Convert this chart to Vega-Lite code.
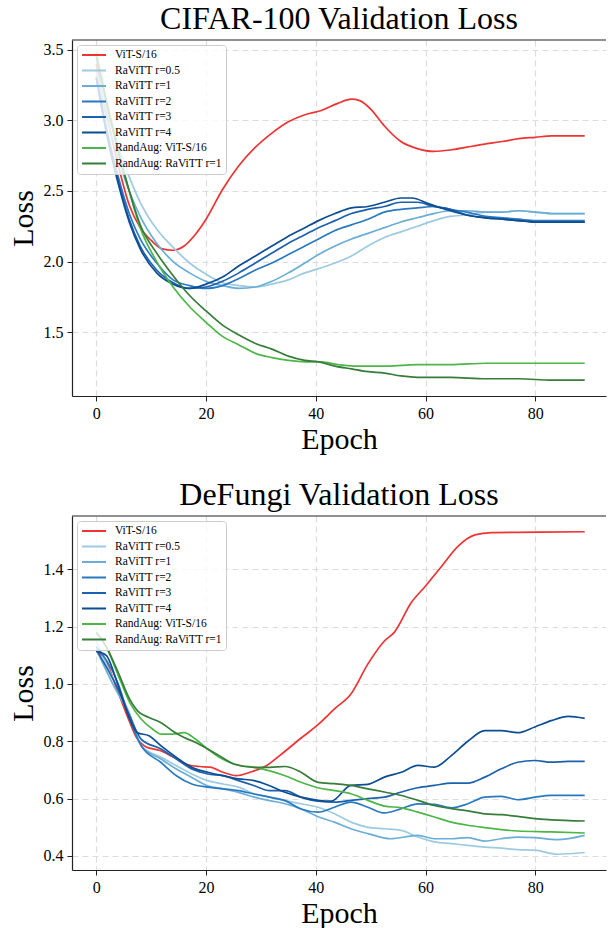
{
  "$schema": "https://vega.github.io/schema/vega-lite/v6.json",
  "padding": {"left": 8, "top": 3, "right": 0, "bottom": 0},
  "background": "white",
  "datasets": {
    "cifar": [
      {"s":"ViT-S/16","e":0,"v":3.40},{"s":"ViT-S/16","e":2,"v":3.02},{"s":"ViT-S/16","e":4,"v":2.68},{"s":"ViT-S/16","e":6,"v":2.40},{"s":"ViT-S/16","e":8,"v":2.24},{"s":"ViT-S/16","e":10,"v":2.15},{"s":"ViT-S/16","e":12,"v":2.09},{"s":"ViT-S/16","e":14,"v":2.08},{"s":"ViT-S/16","e":16,"v":2.11},{"s":"ViT-S/16","e":18,"v":2.19},{"s":"ViT-S/16","e":20,"v":2.30},{"s":"ViT-S/16","e":23,"v":2.51},{"s":"ViT-S/16","e":26,"v":2.68},{"s":"ViT-S/16","e":29,"v":2.81},{"s":"ViT-S/16","e":32,"v":2.91},{"s":"ViT-S/16","e":35,"v":2.99},{"s":"ViT-S/16","e":38,"v":3.04},{"s":"ViT-S/16","e":41,"v":3.07},{"s":"ViT-S/16","e":44,"v":3.12},{"s":"ViT-S/16","e":46.5,"v":3.15},{"s":"ViT-S/16","e":48,"v":3.14},{"s":"ViT-S/16","e":50,"v":3.08},{"s":"ViT-S/16","e":52.5,"v":2.96},{"s":"ViT-S/16","e":55.5,"v":2.85},{"s":"ViT-S/16","e":58.5,"v":2.80},{"s":"ViT-S/16","e":61.5,"v":2.78},{"s":"ViT-S/16","e":64.5,"v":2.79},{"s":"ViT-S/16","e":67.5,"v":2.81},{"s":"ViT-S/16","e":70.5,"v":2.83},{"s":"ViT-S/16","e":74,"v":2.85},{"s":"ViT-S/16","e":77,"v":2.87},{"s":"ViT-S/16","e":80,"v":2.88},{"s":"ViT-S/16","e":83,"v":2.89},{"s":"ViT-S/16","e":89,"v":2.89},
      {"s":"RaViTT r=0.5","e":0,"v":3.35},{"s":"RaViTT r=0.5","e":2,"v":3.06},{"s":"RaViTT r=0.5","e":4,"v":2.82},{"s":"RaViTT r=0.5","e":6,"v":2.60},{"s":"RaViTT r=0.5","e":8,"v":2.42},{"s":"RaViTT r=0.5","e":11,"v":2.23},{"s":"RaViTT r=0.5","e":14,"v":2.10},{"s":"RaViTT r=0.5","e":17,"v":1.99},{"s":"RaViTT r=0.5","e":20,"v":1.91},{"s":"RaViTT r=0.5","e":23,"v":1.85},{"s":"RaViTT r=0.5","e":26,"v":1.83},{"s":"RaViTT r=0.5","e":29,"v":1.82},{"s":"RaViTT r=0.5","e":32,"v":1.84},{"s":"RaViTT r=0.5","e":35,"v":1.87},{"s":"RaViTT r=0.5","e":38,"v":1.92},{"s":"RaViTT r=0.5","e":40.5,"v":1.95},{"s":"RaViTT r=0.5","e":43.5,"v":1.99},{"s":"RaViTT r=0.5","e":46.5,"v":2.04},{"s":"RaViTT r=0.5","e":49.5,"v":2.11},{"s":"RaViTT r=0.5","e":52.5,"v":2.17},{"s":"RaViTT r=0.5","e":55.5,"v":2.21},{"s":"RaViTT r=0.5","e":58.5,"v":2.25},{"s":"RaViTT r=0.5","e":61.5,"v":2.29},{"s":"RaViTT r=0.5","e":64.5,"v":2.32},{"s":"RaViTT r=0.5","e":67.5,"v":2.33},{"s":"RaViTT r=0.5","e":71,"v":2.35},{"s":"RaViTT r=0.5","e":74,"v":2.35},{"s":"RaViTT r=0.5","e":77,"v":2.36},{"s":"RaViTT r=0.5","e":80,"v":2.35},{"s":"RaViTT r=0.5","e":83,"v":2.34},{"s":"RaViTT r=0.5","e":89,"v":2.34},
      {"s":"RaViTT r=1","e":0,"v":3.32},{"s":"RaViTT r=1","e":2,"v":3.00},{"s":"RaViTT r=1","e":4,"v":2.73},{"s":"RaViTT r=1","e":6,"v":2.50},{"s":"RaViTT r=1","e":8,"v":2.32},{"s":"RaViTT r=1","e":11,"v":2.13},{"s":"RaViTT r=1","e":14,"v":2.00},{"s":"RaViTT r=1","e":17,"v":1.92},{"s":"RaViTT r=1","e":20,"v":1.86},{"s":"RaViTT r=1","e":23,"v":1.83},{"s":"RaViTT r=1","e":26,"v":1.81},{"s":"RaViTT r=1","e":29,"v":1.82},{"s":"RaViTT r=1","e":32,"v":1.86},{"s":"RaViTT r=1","e":35,"v":1.92},{"s":"RaViTT r=1","e":38,"v":1.99},{"s":"RaViTT r=1","e":40.5,"v":2.05},{"s":"RaViTT r=1","e":43.5,"v":2.11},{"s":"RaViTT r=1","e":46.5,"v":2.16},{"s":"RaViTT r=1","e":49.5,"v":2.20},{"s":"RaViTT r=1","e":52.5,"v":2.24},{"s":"RaViTT r=1","e":55.5,"v":2.28},{"s":"RaViTT r=1","e":58.5,"v":2.31},{"s":"RaViTT r=1","e":61.5,"v":2.34},{"s":"RaViTT r=1","e":64.5,"v":2.36},{"s":"RaViTT r=1","e":67.5,"v":2.36},{"s":"RaViTT r=1","e":71,"v":2.35},{"s":"RaViTT r=1","e":74,"v":2.35},{"s":"RaViTT r=1","e":77,"v":2.36},{"s":"RaViTT r=1","e":80,"v":2.35},{"s":"RaViTT r=1","e":83,"v":2.34},{"s":"RaViTT r=1","e":89,"v":2.34},
      {"s":"RaViTT r=2","e":0,"v":3.30},{"s":"RaViTT r=2","e":2,"v":2.92},{"s":"RaViTT r=2","e":4,"v":2.60},{"s":"RaViTT r=2","e":6,"v":2.34},{"s":"RaViTT r=2","e":8,"v":2.16},{"s":"RaViTT r=2","e":11,"v":1.99},{"s":"RaViTT r=2","e":14,"v":1.87},{"s":"RaViTT r=2","e":17,"v":1.83},{"s":"RaViTT r=2","e":20,"v":1.81},{"s":"RaViTT r=2","e":23,"v":1.83},{"s":"RaViTT r=2","e":26,"v":1.88},{"s":"RaViTT r=2","e":29,"v":1.94},{"s":"RaViTT r=2","e":32,"v":1.99},{"s":"RaViTT r=2","e":35,"v":2.05},{"s":"RaViTT r=2","e":38,"v":2.11},{"s":"RaViTT r=2","e":40.5,"v":2.16},{"s":"RaViTT r=2","e":43.5,"v":2.22},{"s":"RaViTT r=2","e":46.5,"v":2.26},{"s":"RaViTT r=2","e":49.5,"v":2.30},{"s":"RaViTT r=2","e":52.5,"v":2.35},{"s":"RaViTT r=2","e":55.5,"v":2.37},{"s":"RaViTT r=2","e":58.5,"v":2.38},{"s":"RaViTT r=2","e":61.5,"v":2.39},{"s":"RaViTT r=2","e":64.5,"v":2.37},{"s":"RaViTT r=2","e":67.5,"v":2.35},{"s":"RaViTT r=2","e":71,"v":2.32},{"s":"RaViTT r=2","e":74,"v":2.31},{"s":"RaViTT r=2","e":77,"v":2.30},{"s":"RaViTT r=2","e":80,"v":2.29},{"s":"RaViTT r=2","e":83,"v":2.29},{"s":"RaViTT r=2","e":89,"v":2.29},
      {"s":"RaViTT r=3","e":0,"v":3.30},{"s":"RaViTT r=3","e":2,"v":2.90},{"s":"RaViTT r=3","e":4,"v":2.57},{"s":"RaViTT r=3","e":6,"v":2.30},{"s":"RaViTT r=3","e":8,"v":2.11},{"s":"RaViTT r=3","e":11,"v":1.94},{"s":"RaViTT r=3","e":14,"v":1.85},{"s":"RaViTT r=3","e":17,"v":1.81},{"s":"RaViTT r=3","e":20,"v":1.82},{"s":"RaViTT r=3","e":23,"v":1.86},{"s":"RaViTT r=3","e":26,"v":1.92},{"s":"RaViTT r=3","e":29,"v":1.99},{"s":"RaViTT r=3","e":32,"v":2.06},{"s":"RaViTT r=3","e":35,"v":2.13},{"s":"RaViTT r=3","e":38,"v":2.19},{"s":"RaViTT r=3","e":40.5,"v":2.24},{"s":"RaViTT r=3","e":43.5,"v":2.29},{"s":"RaViTT r=3","e":46.5,"v":2.34},{"s":"RaViTT r=3","e":49.5,"v":2.37},{"s":"RaViTT r=3","e":52.5,"v":2.39},{"s":"RaViTT r=3","e":55.5,"v":2.42},{"s":"RaViTT r=3","e":58.5,"v":2.42},{"s":"RaViTT r=3","e":61.5,"v":2.39},{"s":"RaViTT r=3","e":64.5,"v":2.37},{"s":"RaViTT r=3","e":67.5,"v":2.33},{"s":"RaViTT r=3","e":71,"v":2.31},{"s":"RaViTT r=3","e":74,"v":2.30},{"s":"RaViTT r=3","e":77,"v":2.29},{"s":"RaViTT r=3","e":80,"v":2.28},{"s":"RaViTT r=3","e":83,"v":2.28},{"s":"RaViTT r=3","e":89,"v":2.28},
      {"s":"RaViTT r=4","e":0,"v":3.30},{"s":"RaViTT r=4","e":2,"v":2.88},{"s":"RaViTT r=4","e":4,"v":2.55},{"s":"RaViTT r=4","e":6,"v":2.28},{"s":"RaViTT r=4","e":8,"v":2.09},{"s":"RaViTT r=4","e":11,"v":1.92},{"s":"RaViTT r=4","e":14,"v":1.84},{"s":"RaViTT r=4","e":17,"v":1.81},{"s":"RaViTT r=4","e":20,"v":1.84},{"s":"RaViTT r=4","e":23,"v":1.89},{"s":"RaViTT r=4","e":26,"v":1.97},{"s":"RaViTT r=4","e":29,"v":2.04},{"s":"RaViTT r=4","e":32,"v":2.11},{"s":"RaViTT r=4","e":35,"v":2.18},{"s":"RaViTT r=4","e":38,"v":2.24},{"s":"RaViTT r=4","e":40.5,"v":2.29},{"s":"RaViTT r=4","e":43.5,"v":2.34},{"s":"RaViTT r=4","e":46.5,"v":2.38},{"s":"RaViTT r=4","e":49.5,"v":2.39},{"s":"RaViTT r=4","e":52.5,"v":2.42},{"s":"RaViTT r=4","e":55.5,"v":2.45},{"s":"RaViTT r=4","e":57.5,"v":2.45},{"s":"RaViTT r=4","e":60.5,"v":2.41},{"s":"RaViTT r=4","e":64.5,"v":2.36},{"s":"RaViTT r=4","e":67.5,"v":2.33},{"s":"RaViTT r=4","e":71,"v":2.31},{"s":"RaViTT r=4","e":74,"v":2.30},{"s":"RaViTT r=4","e":77,"v":2.29},{"s":"RaViTT r=4","e":80,"v":2.28},{"s":"RaViTT r=4","e":83,"v":2.28},{"s":"RaViTT r=4","e":89,"v":2.28},
      {"s":"RandAug: ViT-S/16","e":0,"v":3.48},{"s":"RandAug: ViT-S/16","e":2,"v":3.12},{"s":"RandAug: ViT-S/16","e":4,"v":2.80},{"s":"RandAug: ViT-S/16","e":6,"v":2.50},{"s":"RandAug: ViT-S/16","e":8,"v":2.24},{"s":"RandAug: ViT-S/16","e":11,"v":2.00},{"s":"RandAug: ViT-S/16","e":14,"v":1.82},{"s":"RandAug: ViT-S/16","e":17,"v":1.68},{"s":"RandAug: ViT-S/16","e":20,"v":1.57},{"s":"RandAug: ViT-S/16","e":23,"v":1.47},{"s":"RandAug: ViT-S/16","e":26,"v":1.41},{"s":"RandAug: ViT-S/16","e":29,"v":1.35},{"s":"RandAug: ViT-S/16","e":32,"v":1.32},{"s":"RandAug: ViT-S/16","e":35,"v":1.30},{"s":"RandAug: ViT-S/16","e":38,"v":1.29},{"s":"RandAug: ViT-S/16","e":41,"v":1.29},{"s":"RandAug: ViT-S/16","e":44,"v":1.27},{"s":"RandAug: ViT-S/16","e":47,"v":1.26},{"s":"RandAug: ViT-S/16","e":50,"v":1.26},{"s":"RandAug: ViT-S/16","e":53,"v":1.26},{"s":"RandAug: ViT-S/16","e":58.5,"v":1.27},{"s":"RandAug: ViT-S/16","e":64.5,"v":1.27},{"s":"RandAug: ViT-S/16","e":71,"v":1.28},{"s":"RandAug: ViT-S/16","e":77,"v":1.28},{"s":"RandAug: ViT-S/16","e":83,"v":1.28},{"s":"RandAug: ViT-S/16","e":89,"v":1.28},
      {"s":"RandAug: RaViTT r=1","e":0,"v":3.45},{"s":"RandAug: RaViTT r=1","e":2,"v":3.10},{"s":"RandAug: RaViTT r=1","e":4,"v":2.78},{"s":"RandAug: RaViTT r=1","e":6,"v":2.50},{"s":"RandAug: RaViTT r=1","e":8,"v":2.26},{"s":"RandAug: RaViTT r=1","e":11,"v":2.06},{"s":"RandAug: RaViTT r=1","e":14,"v":1.90},{"s":"RandAug: RaViTT r=1","e":17,"v":1.76},{"s":"RandAug: RaViTT r=1","e":20,"v":1.65},{"s":"RandAug: RaViTT r=1","e":23,"v":1.55},{"s":"RandAug: RaViTT r=1","e":26,"v":1.48},{"s":"RandAug: RaViTT r=1","e":29,"v":1.42},{"s":"RandAug: RaViTT r=1","e":32,"v":1.38},{"s":"RandAug: RaViTT r=1","e":35,"v":1.33},{"s":"RandAug: RaViTT r=1","e":38,"v":1.30},{"s":"RandAug: RaViTT r=1","e":40.5,"v":1.29},{"s":"RandAug: RaViTT r=1","e":43.5,"v":1.26},{"s":"RandAug: RaViTT r=1","e":46.5,"v":1.24},{"s":"RandAug: RaViTT r=1","e":49.5,"v":1.22},{"s":"RandAug: RaViTT r=1","e":52.5,"v":1.21},{"s":"RandAug: RaViTT r=1","e":55.5,"v":1.19},{"s":"RandAug: RaViTT r=1","e":58.5,"v":1.18},{"s":"RandAug: RaViTT r=1","e":64.5,"v":1.18},{"s":"RandAug: RaViTT r=1","e":71,"v":1.17},{"s":"RandAug: RaViTT r=1","e":77,"v":1.17},{"s":"RandAug: RaViTT r=1","e":83,"v":1.16},{"s":"RandAug: RaViTT r=1","e":89,"v":1.16}
    ],
    "defungi": [
      {"s":"ViT-S/16","e":0,"v":1.116},{"s":"ViT-S/16","e":1.8,"v":1.08},{"s":"ViT-S/16","e":3.6,"v":0.99},{"s":"ViT-S/16","e":5.5,"v":0.895},{"s":"ViT-S/16","e":7.3,"v":0.814},{"s":"ViT-S/16","e":9.1,"v":0.78},{"s":"ViT-S/16","e":11.6,"v":0.768},{"s":"ViT-S/16","e":14,"v":0.745},{"s":"ViT-S/16","e":16.4,"v":0.72},{"s":"ViT-S/16","e":18.8,"v":0.712},{"s":"ViT-S/16","e":20.7,"v":0.71},{"s":"ViT-S/16","e":23.1,"v":0.692},{"s":"ViT-S/16","e":25.5,"v":0.68},{"s":"ViT-S/16","e":28,"v":0.692},{"s":"ViT-S/16","e":31,"v":0.715},{"s":"ViT-S/16","e":33.4,"v":0.75},{"s":"ViT-S/16","e":37.1,"v":0.808},{"s":"ViT-S/16","e":40.4,"v":0.858},{"s":"ViT-S/16","e":43.4,"v":0.913},{"s":"ViT-S/16","e":46.4,"v":0.965},{"s":"ViT-S/16","e":49.5,"v":1.07},{"s":"ViT-S/16","e":52.5,"v":1.15},{"s":"ViT-S/16","e":54.3,"v":1.18},{"s":"ViT-S/16","e":57.4,"v":1.284},{"s":"ViT-S/16","e":60,"v":1.342},{"s":"ViT-S/16","e":62.9,"v":1.41},{"s":"ViT-S/16","e":65.9,"v":1.48},{"s":"ViT-S/16","e":69,"v":1.52},{"s":"ViT-S/16","e":72,"v":1.528},{"s":"ViT-S/16","e":76.8,"v":1.529},{"s":"ViT-S/16","e":89,"v":1.531},
      {"s":"RaViTT r=0.5","e":0,"v":1.15},{"s":"RaViTT r=0.5","e":3,"v":1.02},{"s":"RaViTT r=0.5","e":6,"v":0.90},{"s":"RaViTT r=0.5","e":8.2,"v":0.784},{"s":"RaViTT r=0.5","e":11.8,"v":0.744},{"s":"RaViTT r=0.5","e":14.6,"v":0.715},{"s":"RaViTT r=0.5","e":17.4,"v":0.686},{"s":"RaViTT r=0.5","e":20.3,"v":0.663},{"s":"RaViTT r=0.5","e":23.1,"v":0.651},{"s":"RaViTT r=0.5","e":25.9,"v":0.64},{"s":"RaViTT r=0.5","e":28.8,"v":0.616},{"s":"RaViTT r=0.5","e":31.6,"v":0.605},{"s":"RaViTT r=0.5","e":34.4,"v":0.593},{"s":"RaViTT r=0.5","e":37.3,"v":0.582},{"s":"RaViTT r=0.5","e":40.4,"v":0.57},{"s":"RaViTT r=0.5","e":43.4,"v":0.547},{"s":"RaViTT r=0.5","e":46.4,"v":0.518},{"s":"RaViTT r=0.5","e":49.5,"v":0.50},{"s":"RaViTT r=0.5","e":52.5,"v":0.495},{"s":"RaViTT r=0.5","e":55.6,"v":0.489},{"s":"RaViTT r=0.5","e":58.6,"v":0.466},{"s":"RaViTT r=0.5","e":61.6,"v":0.449},{"s":"RaViTT r=0.5","e":64.7,"v":0.443},{"s":"RaViTT r=0.5","e":67.7,"v":0.437},{"s":"RaViTT r=0.5","e":70.8,"v":0.431},{"s":"RaViTT r=0.5","e":73.8,"v":0.427},{"s":"RaViTT r=0.5","e":76.8,"v":0.422},{"s":"RaViTT r=0.5","e":79.9,"v":0.42},{"s":"RaViTT r=0.5","e":84,"v":0.406},{"s":"RaViTT r=0.5","e":89,"v":0.412},
      {"s":"RaViTT r=1","e":0,"v":1.12},{"s":"RaViTT r=1","e":3,"v":1.00},{"s":"RaViTT r=1","e":6.1,"v":0.888},{"s":"RaViTT r=1","e":8.2,"v":0.784},{"s":"RaViTT r=1","e":11.8,"v":0.738},{"s":"RaViTT r=1","e":14.6,"v":0.703},{"s":"RaViTT r=1","e":17.4,"v":0.674},{"s":"RaViTT r=1","e":20.3,"v":0.645},{"s":"RaViTT r=1","e":23.1,"v":0.634},{"s":"RaViTT r=1","e":25.9,"v":0.622},{"s":"RaViTT r=1","e":28.8,"v":0.605},{"s":"RaViTT r=1","e":31.6,"v":0.593},{"s":"RaViTT r=1","e":34.4,"v":0.582},{"s":"RaViTT r=1","e":37.3,"v":0.564},{"s":"RaViTT r=1","e":40.4,"v":0.537},{"s":"RaViTT r=1","e":43.4,"v":0.518},{"s":"RaViTT r=1","e":46.4,"v":0.495},{"s":"RaViTT r=1","e":49.5,"v":0.478},{"s":"RaViTT r=1","e":53.6,"v":0.46},{"s":"RaViTT r=1","e":58.6,"v":0.472},{"s":"RaViTT r=1","e":61.6,"v":0.46},{"s":"RaViTT r=1","e":64.7,"v":0.46},{"s":"RaViTT r=1","e":67.7,"v":0.464},{"s":"RaViTT r=1","e":70.8,"v":0.452},{"s":"RaViTT r=1","e":73.8,"v":0.46},{"s":"RaViTT r=1","e":76.8,"v":0.466},{"s":"RaViTT r=1","e":79.9,"v":0.464},{"s":"RaViTT r=1","e":84,"v":0.457},{"s":"RaViTT r=1","e":89,"v":0.472},
      {"s":"RaViTT r=2","e":0,"v":1.13},{"s":"RaViTT r=2","e":4,"v":1.00},{"s":"RaViTT r=2","e":6.1,"v":0.877},{"s":"RaViTT r=2","e":8.2,"v":0.784},{"s":"RaViTT r=2","e":11.8,"v":0.726},{"s":"RaViTT r=2","e":14.6,"v":0.68},{"s":"RaViTT r=2","e":17.4,"v":0.651},{"s":"RaViTT r=2","e":20.3,"v":0.64},{"s":"RaViTT r=2","e":23.1,"v":0.634},{"s":"RaViTT r=2","e":25.9,"v":0.628},{"s":"RaViTT r=2","e":28.8,"v":0.616},{"s":"RaViTT r=2","e":31.6,"v":0.605},{"s":"RaViTT r=2","e":34.4,"v":0.593},{"s":"RaViTT r=2","e":37.3,"v":0.564},{"s":"RaViTT r=2","e":40.4,"v":0.553},{"s":"RaViTT r=2","e":43.4,"v":0.57},{"s":"RaViTT r=2","e":46.4,"v":0.588},{"s":"RaViTT r=2","e":49.5,"v":0.57},{"s":"RaViTT r=2","e":52.5,"v":0.55},{"s":"RaViTT r=2","e":55.6,"v":0.565},{"s":"RaViTT r=2","e":58.6,"v":0.582},{"s":"RaViTT r=2","e":61.6,"v":0.58},{"s":"RaViTT r=2","e":64.7,"v":0.568},{"s":"RaViTT r=2","e":67.7,"v":0.582},{"s":"RaViTT r=2","e":70.8,"v":0.605},{"s":"RaViTT r=2","e":73.8,"v":0.608},{"s":"RaViTT r=2","e":76.8,"v":0.596},{"s":"RaViTT r=2","e":79.9,"v":0.605},{"s":"RaViTT r=2","e":82.9,"v":0.611},{"s":"RaViTT r=2","e":89,"v":0.611},
      {"s":"RaViTT r=3","e":0,"v":1.12},{"s":"RaViTT r=3","e":4,"v":0.98},{"s":"RaViTT r=3","e":6.1,"v":0.888},{"s":"RaViTT r=3","e":8.2,"v":0.807},{"s":"RaViTT r=3","e":11.8,"v":0.773},{"s":"RaViTT r=3","e":14.6,"v":0.738},{"s":"RaViTT r=3","e":17.4,"v":0.703},{"s":"RaViTT r=3","e":20.3,"v":0.686},{"s":"RaViTT r=3","e":23.1,"v":0.68},{"s":"RaViTT r=3","e":25.9,"v":0.663},{"s":"RaViTT r=3","e":28.8,"v":0.645},{"s":"RaViTT r=3","e":31.6,"v":0.628},{"s":"RaViTT r=3","e":34.4,"v":0.628},{"s":"RaViTT r=3","e":37.3,"v":0.605},{"s":"RaViTT r=3","e":40.4,"v":0.591},{"s":"RaViTT r=3","e":43.4,"v":0.588},{"s":"RaViTT r=3","e":46.4,"v":0.594},{"s":"RaViTT r=3","e":49.5,"v":0.60},{"s":"RaViTT r=3","e":52.5,"v":0.605},{"s":"RaViTT r=3","e":55.6,"v":0.623},{"s":"RaViTT r=3","e":58.6,"v":0.638},{"s":"RaViTT r=3","e":61.6,"v":0.646},{"s":"RaViTT r=3","e":64.7,"v":0.654},{"s":"RaViTT r=3","e":67.7,"v":0.654},{"s":"RaViTT r=3","e":70.8,"v":0.675},{"s":"RaViTT r=3","e":73.8,"v":0.704},{"s":"RaViTT r=3","e":76.8,"v":0.727},{"s":"RaViTT r=3","e":79.9,"v":0.733},{"s":"RaViTT r=3","e":82.9,"v":0.727},{"s":"RaViTT r=3","e":86,"v":0.73},{"s":"RaViTT r=3","e":89,"v":0.73},
      {"s":"RaViTT r=4","e":0,"v":1.114},{"s":"RaViTT r=4","e":1.8,"v":1.10},{"s":"RaViTT r=4","e":4,"v":0.993},{"s":"RaViTT r=4","e":6.1,"v":0.877},{"s":"RaViTT r=4","e":7.5,"v":0.83},{"s":"RaViTT r=4","e":9.6,"v":0.819},{"s":"RaViTT r=4","e":11.8,"v":0.784},{"s":"RaViTT r=4","e":14.6,"v":0.744},{"s":"RaViTT r=4","e":17.4,"v":0.709},{"s":"RaViTT r=4","e":20.3,"v":0.692},{"s":"RaViTT r=4","e":23.1,"v":0.68},{"s":"RaViTT r=4","e":25.9,"v":0.669},{"s":"RaViTT r=4","e":28.8,"v":0.663},{"s":"RaViTT r=4","e":31.6,"v":0.645},{"s":"RaViTT r=4","e":34.4,"v":0.622},{"s":"RaViTT r=4","e":37.3,"v":0.605},{"s":"RaViTT r=4","e":40.4,"v":0.594},{"s":"RaViTT r=4","e":42.8,"v":0.591},{"s":"RaViTT r=4","e":46.4,"v":0.646},{"s":"RaViTT r=4","e":49.5,"v":0.65},{"s":"RaViTT r=4","e":52.5,"v":0.675},{"s":"RaViTT r=4","e":55.6,"v":0.692},{"s":"RaViTT r=4","e":58.6,"v":0.716},{"s":"RaViTT r=4","e":61.6,"v":0.71},{"s":"RaViTT r=4","e":64.7,"v":0.75},{"s":"RaViTT r=4","e":67.7,"v":0.80},{"s":"RaViTT r=4","e":70.8,"v":0.837},{"s":"RaViTT r=4","e":73.8,"v":0.837},{"s":"RaViTT r=4","e":76.8,"v":0.83},{"s":"RaViTT r=4","e":79.9,"v":0.85},{"s":"RaViTT r=4","e":82.9,"v":0.872},{"s":"RaViTT r=4","e":86,"v":0.887},{"s":"RaViTT r=4","e":89,"v":0.88},
      {"s":"RandAug: ViT-S/16","e":0,"v":1.18},{"s":"RandAug: ViT-S/16","e":1.8,"v":1.13},{"s":"RandAug: ViT-S/16","e":4,"v":1.03},{"s":"RandAug: ViT-S/16","e":6.1,"v":0.935},{"s":"RandAug: ViT-S/16","e":8.2,"v":0.877},{"s":"RandAug: ViT-S/16","e":10.3,"v":0.842},{"s":"RandAug: ViT-S/16","e":11.8,"v":0.825},{"s":"RandAug: ViT-S/16","e":13.9,"v":0.825},{"s":"RandAug: ViT-S/16","e":16,"v":0.83},{"s":"RandAug: ViT-S/16","e":18.1,"v":0.807},{"s":"RandAug: ViT-S/16","e":20.3,"v":0.773},{"s":"RandAug: ViT-S/16","e":22.4,"v":0.744},{"s":"RandAug: ViT-S/16","e":25.2,"v":0.72},{"s":"RandAug: ViT-S/16","e":28.8,"v":0.709},{"s":"RandAug: ViT-S/16","e":31.6,"v":0.697},{"s":"RandAug: ViT-S/16","e":34.4,"v":0.68},{"s":"RandAug: ViT-S/16","e":37.3,"v":0.657},{"s":"RandAug: ViT-S/16","e":40.4,"v":0.638},{"s":"RandAug: ViT-S/16","e":43.4,"v":0.628},{"s":"RandAug: ViT-S/16","e":46.4,"v":0.617},{"s":"RandAug: ViT-S/16","e":49.5,"v":0.594},{"s":"RandAug: ViT-S/16","e":52.5,"v":0.574},{"s":"RandAug: ViT-S/16","e":55.6,"v":0.568},{"s":"RandAug: ViT-S/16","e":58.6,"v":0.553},{"s":"RandAug: ViT-S/16","e":61.6,"v":0.536},{"s":"RandAug: ViT-S/16","e":64.7,"v":0.518},{"s":"RandAug: ViT-S/16","e":67.7,"v":0.507},{"s":"RandAug: ViT-S/16","e":70.8,"v":0.499},{"s":"RandAug: ViT-S/16","e":73.8,"v":0.492},{"s":"RandAug: ViT-S/16","e":76.8,"v":0.487},{"s":"RandAug: ViT-S/16","e":82.9,"v":0.484},{"s":"RandAug: ViT-S/16","e":89,"v":0.48},
      {"s":"RandAug: RaViTT r=1","e":0,"v":1.18},{"s":"RandAug: RaViTT r=1","e":1.8,"v":1.13},{"s":"RandAug: RaViTT r=1","e":4,"v":1.04},{"s":"RandAug: RaViTT r=1","e":6.1,"v":0.946},{"s":"RandAug: RaViTT r=1","e":7.5,"v":0.906},{"s":"RandAug: RaViTT r=1","e":9.6,"v":0.883},{"s":"RandAug: RaViTT r=1","e":11.8,"v":0.865},{"s":"RandAug: RaViTT r=1","e":13.9,"v":0.836},{"s":"RandAug: RaViTT r=1","e":16,"v":0.813},{"s":"RandAug: RaViTT r=1","e":18.1,"v":0.796},{"s":"RandAug: RaViTT r=1","e":20.3,"v":0.773},{"s":"RandAug: RaViTT r=1","e":22.4,"v":0.75},{"s":"RandAug: RaViTT r=1","e":25.2,"v":0.72},{"s":"RandAug: RaViTT r=1","e":28.8,"v":0.709},{"s":"RandAug: RaViTT r=1","e":31.6,"v":0.709},{"s":"RandAug: RaViTT r=1","e":34.4,"v":0.712},{"s":"RandAug: RaViTT r=1","e":37.3,"v":0.692},{"s":"RandAug: RaViTT r=1","e":40.4,"v":0.657},{"s":"RandAug: RaViTT r=1","e":43.4,"v":0.652},{"s":"RandAug: RaViTT r=1","e":46.4,"v":0.646},{"s":"RandAug: RaViTT r=1","e":49.5,"v":0.634},{"s":"RandAug: RaViTT r=1","e":52.5,"v":0.623},{"s":"RandAug: RaViTT r=1","e":55.6,"v":0.611},{"s":"RandAug: RaViTT r=1","e":58.6,"v":0.594},{"s":"RandAug: RaViTT r=1","e":61.6,"v":0.576},{"s":"RandAug: RaViTT r=1","e":64.7,"v":0.565},{"s":"RandAug: RaViTT r=1","e":67.7,"v":0.557},{"s":"RandAug: RaViTT r=1","e":70.8,"v":0.547},{"s":"RandAug: RaViTT r=1","e":73.8,"v":0.544},{"s":"RandAug: RaViTT r=1","e":76.8,"v":0.538},{"s":"RandAug: RaViTT r=1","e":79.9,"v":0.53},{"s":"RandAug: RaViTT r=1","e":82.9,"v":0.526},{"s":"RandAug: RaViTT r=1","e":89,"v":0.522}
    ]
  },
  "config": {
    "font": "Liberation Serif",
    "view": {"stroke": null},
    "axis": {
      "labelFont": "Liberation Serif", "labelFontSize": 16, "labelColor": "black",
      "titleFont": "Liberation Serif", "titleFontSize": 30, "titleFontWeight": "normal", "titleColor": "black",
      "domainColor": "#222222", "domainWidth": 1.2, "tickColor": "#222222", "tickSize": 5, "tickWidth": 1,
      "labelPadding": 4, "gridColor": "#dcdcdc", "gridDash": [6, 4], "gridWidth": 1.2
    },
    "title": {"font": "Liberation Serif", "fontSize": 32, "fontWeight": "normal", "color": "black", "offset": 3, "frame": "group", "anchor": "middle"},
    "legend": {
      "orient": "top-left", "offset": 5, "labelFont": "Liberation Serif", "labelFontSize": 11.5, "labelColor": "black",
      "symbolType": "stroke", "symbolSize": 576, "symbolStrokeWidth": 2, "clipHeight": 12, "rowPadding": 3.5,
      "labelOffset": 8, "padding": 4, "fillColor": "rgba(255,255,255,0.8)", "strokeColor": "#cccccc", "cornerRadius": 3,
      "labelLimit": 300
    }
  },
  "spacing": 120,
  "bounds": "flush",
  "resolve": {"scale": {"color": "independent"}},
  "vconcat": [
    {
      "title": "CIFAR-100 Validation Loss",
      "width": 534,
      "height": 356,
      "layer": [
        {
          "data": {"name": "cifar"},
          "mark": {"type": "line", "interpolate": "monotone", "strokeWidth": 1.7},
          "encoding": {
            "x": {"field": "e", "type": "quantitative", "scale": {"domain": [-4.43, 92.88], "nice": false, "zero": false}, "axis": {"values": [0, 20, 40, 60, 80], "title": "Epoch", "titlePadding": 3}},
            "y": {"field": "v", "type": "quantitative", "scale": {"domain": [1.048, 3.569], "nice": false, "zero": false}, "axis": {"values": [1.5, 2, 2.5, 3, 3.5], "format": ".1f", "title": "Loss", "titlePadding": 5}},
            "color": {"field": "s", "type": "nominal", "sort": null,
              "scale": {"domain": ["ViT-S/16", "RaViTT r=0.5", "RaViTT r=1", "RaViTT r=2", "RaViTT r=3", "RaViTT r=4", "RandAug: ViT-S/16", "RandAug: RaViTT r=1"],
                "range": ["#ee3333", "#9ecae1", "#6aaed6", "#2979c0", "#1c61ad", "#0d4d92", "#4cb648", "#377d3a"]},
              "legend": {"title": null}}
          }
        },
        {
          "data": {"values": [{}]},
          "mark": {"type": "rule", "color": "#222222", "strokeWidth": 1.2},
          "encoding": {"y": {"datum": 3.569}}
        }
      ]
    },
    {
      "title": "DeFungi Validation Loss",
      "width": 534,
      "height": 354,
      "layer": [
        {
          "data": {"name": "defungi"},
          "mark": {"type": "line", "interpolate": "monotone", "strokeWidth": 1.7},
          "encoding": {
            "x": {"field": "e", "type": "quantitative", "scale": {"domain": [-4.43, 92.88], "nice": false, "zero": false}, "axis": {"values": [0, 20, 40, 60, 80], "title": "Epoch", "titlePadding": 3}},
            "y": {"field": "v", "type": "quantitative", "scale": {"domain": [0.351, 1.586], "nice": false, "zero": false}, "axis": {"values": [0.4, 0.6, 0.8, 1.0, 1.2, 1.4], "format": ".1f", "title": "Loss", "titlePadding": 5}},
            "color": {"field": "s", "type": "nominal", "sort": null,
              "scale": {"domain": ["ViT-S/16", "RaViTT r=0.5", "RaViTT r=1", "RaViTT r=2", "RaViTT r=3", "RaViTT r=4", "RandAug: ViT-S/16", "RandAug: RaViTT r=1"],
                "range": ["#ee3333", "#9ecae1", "#6aaed6", "#2979c0", "#1c61ad", "#0d4d92", "#4cb648", "#377d3a"]},
              "legend": {"title": null}}
          }
        },
        {
          "data": {"values": [{}]},
          "mark": {"type": "rule", "color": "#222222", "strokeWidth": 1.2},
          "encoding": {"y": {"datum": 1.586}}
        }
      ]
    }
  ]
}
